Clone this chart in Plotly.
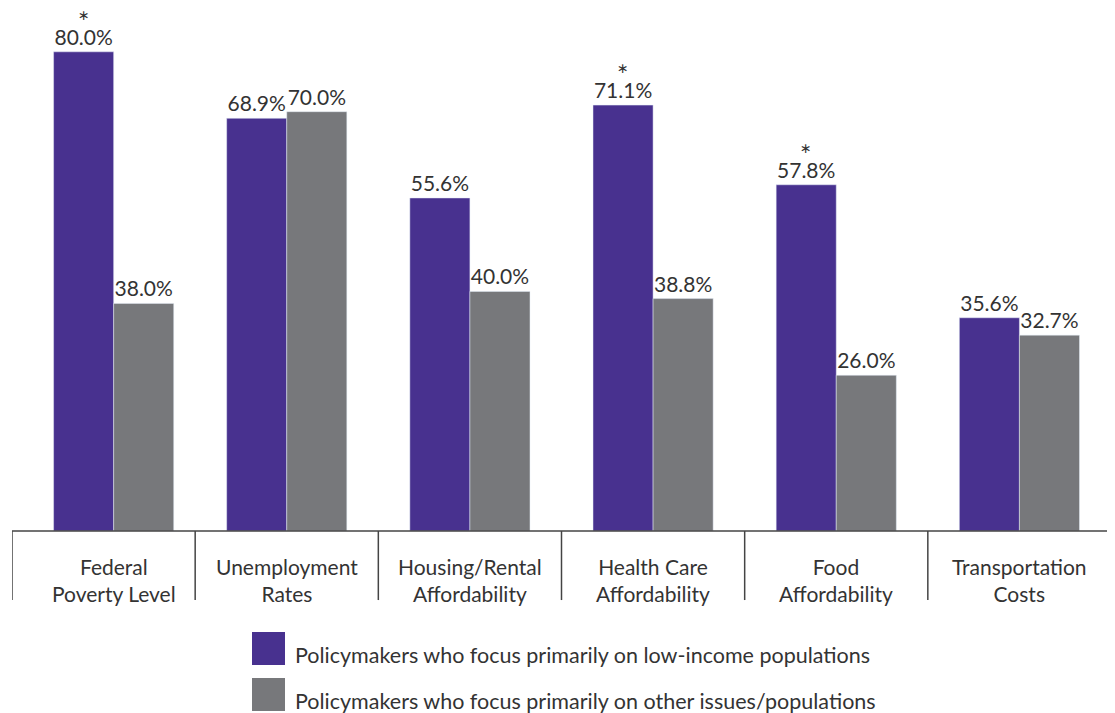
import plotly.graph_objects as go

categories = ["Federal<br>Poverty Level", "Unemployment<br>Rates", "Housing/Rental<br>Affordability",
              "Health Care<br>Affordability", "Food<br>Affordability", "Transportation<br>Costs"]
low_income = [80.0, 68.9, 55.6, 71.1, 57.8, 35.6]
other_issues = [38.0, 70.0, 40.0, 38.8, 26.0, 32.7]
significant = [True, False, False, True, True, False]
series_names = ["Policymakers who focus primarily on low-income populations",
                "Policymakers who focus primarily on other issues/populations"]

PURPLE = "#48318F"
GRAY = "#77787B"
TEXT = "#333333"
FONT = "Lato"

xs = list(range(len(categories)))
BW = 0.328
# horizontal nudge of the group within each category box (first group sits right of centre)
nudge = [0.055, 0, 0, 0, 0, 0]

fig = go.Figure()
fig.add_trace(go.Bar(
    x=xs, y=low_income, width=BW, offset=[-BW + n for n in nudge], marker_color=PURPLE,
    text=[f"{v:.1f}%" for v in low_income],
    textposition="outside", textfont=dict(family=FONT, size=21, color=TEXT),
    constraintext="none", cliponaxis=False, name=series_names[0], showlegend=False))
fig.add_trace(go.Bar(
    x=xs, y=other_issues, width=BW, offset=[n for n in nudge], marker_color=GRAY,
    text=[f"{v:.1f}%" for v in other_issues],
    textposition="outside", textfont=dict(family=FONT, size=21, color=TEXT),
    constraintext="none", cliponaxis=False, name=series_names[1], showlegend=False))

shapes = []
for i in range(len(categories) + 1):
    shapes.append(dict(type="line", xref="x", yref="paper", x0=i - 0.5, x1=i - 0.5,
                       y0=0, y1=-0.132, line=dict(color="#444444", width=1.5)))
shapes.append(dict(type="line", xref="paper", yref="paper", x0=0, x1=1, y0=0, y1=0,
                   line=dict(color="#444444", width=1.5)))

annotations = []
for i, (v, s) in enumerate(zip(low_income, significant)):
    if s:
        annotations.append(dict(x=i - BW / 2 + nudge[i], y=v, xref="x", yref="y", text="\u2217",
                                showarrow=False, xanchor="center", yanchor="middle", yshift=37,
                                font=dict(family="DejaVu Sans", size=14, color=TEXT)))
for i, c in enumerate(categories):
    annotations.append(dict(x=i + nudge[i], y=-0.0945, xref="x", yref="paper", text=c,
                            showarrow=False, xanchor="center", yanchor="middle",
                            font=dict(family=FONT, size=21, color=TEXT)))

# legend
H = 523.0
leg_y = [(-(632 - 531) / H, -(665 - 531) / H), (-(678 - 531) / H, -(711 - 531) / H)]
x0p, x1p = (252 - 12) / 1099, (285 - 12) / 1099
for (y0, y1), col, name in zip(leg_y, [PURPLE, GRAY], series_names):
    shapes.append(dict(type="rect", xref="paper", yref="paper", x0=x0p, x1=x1p,
                       y0=y1, y1=y0, fillcolor=col, line=dict(width=0)))
    annotations.append(dict(x=(293 - 12) / 1099, y=(y0 + y1) / 2 - 6 / H, xref="paper", yref="paper",
                            text=name, showarrow=False, xanchor="left", yanchor="middle",
                            font=dict(family=FONT, size=21.5, color=TEXT)))

fig.update_layout(
    width=1107, height=705,
    margin=dict(l=4, r=4, t=0, b=182),
    plot_bgcolor="white", paper_bgcolor="white",
    barmode="overlay",
    xaxis=dict(range=[-0.5, 5.5], showticklabels=False, showgrid=False, zeroline=False,
               showline=False, ticks=""),
    yaxis=dict(range=[0, H / 5.99], visible=False, showgrid=False, zeroline=False),
    shapes=shapes, annotations=annotations,
)

fig.write_html("out.html")
